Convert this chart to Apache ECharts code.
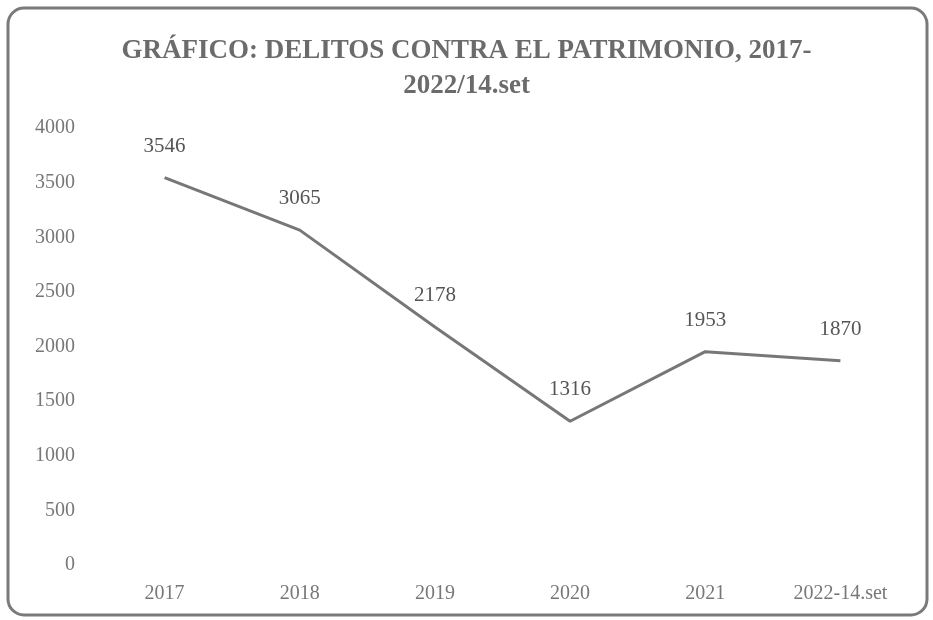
<!DOCTYPE html>
<html>
<head>
<meta charset="utf-8">
<title>Delitos contra el patrimonio</title>
<script src="https://cdn.jsdelivr.net/npm/echarts@6/dist/echarts.min.js"></script>
<style>
  html, body { margin: 0; padding: 0; background: #fff; }
  #chart { width: 933px; height: 620px; }
</style>
</head>
<body>
<div id="chart"></div>
<script>
const years = ['2017', '2018', '2019', '2020', '2021', '2022-14.set'];
const delitos = [3546, 3065, 2178, 1316, 1953, 1870];
const yTicks = [0, 500, 1000, 1500, 2000, 2500, 3000, 3500, 4000];

const chart = echarts.init(document.getElementById('chart'));

const serif = '"Liberation Serif", "DejaVu Serif", serif';

chart.setOption({
  backgroundColor: '#fff',
  animation: false,
  title: {
    text: 'GRÁFICO: DELITOS CONTRA EL PATRIMONIO, 2017-\n2022/14.set',
    left: 'center',
    top: 29,
    textStyle: {
      fontFamily: serif,
      fontWeight: 'bold',
      fontSize: 27,
      lineHeight: 35,
      color: '#6b6b6b'
    }
  },
  graphic: [
    {
      type: 'rect',
      shape: { x: 8, y: 8, width: 919, height: 607, r: 16 },
      style: { fill: 'none', stroke: '#7a7a7a', lineWidth: 3 },
      silent: true
    }
  ],
  grid: {
    left: 97,
    right: 25,
    top: 128,
    bottom: 55
  },
  xAxis: {
    type: 'category',
    data: years,
    boundaryGap: true,
    axisLine: { show: false },
    axisTick: { show: false },
    axisLabel: {
      fontFamily: serif,
      fontSize: 20,
      color: '#777',
      margin: 19
    }
  },
  yAxis: {
    type: 'value',
    min: yTicks[0],
    max: yTicks[yTicks.length - 1],
    interval: 500,
    axisLine: { show: false },
    axisTick: { show: false },
    splitLine: { show: false },
    axisLabel: {
      fontFamily: serif,
      fontSize: 20,
      color: '#777',
      margin: 22,
      formatter: v => String(v)
    }
  },
  series: [
    {
      name: 'Delitos',
      type: 'line',
      data: delitos,
      symbol: 'circle',
      symbolSize: 2,
      showSymbol: true,
      itemStyle: { color: 'rgba(0,0,0,0)', borderWidth: 0 },
      lineStyle: { color: '#777', width: 3 },
      labelLayout: { hideOverlap: false },
      label: {
        show: true,
        position: 'top',
        distance: 20,
        fontFamily: serif,
        fontSize: 21,
        color: '#555'
      }
    }
  ]
});
</script>
</body>
</html>
